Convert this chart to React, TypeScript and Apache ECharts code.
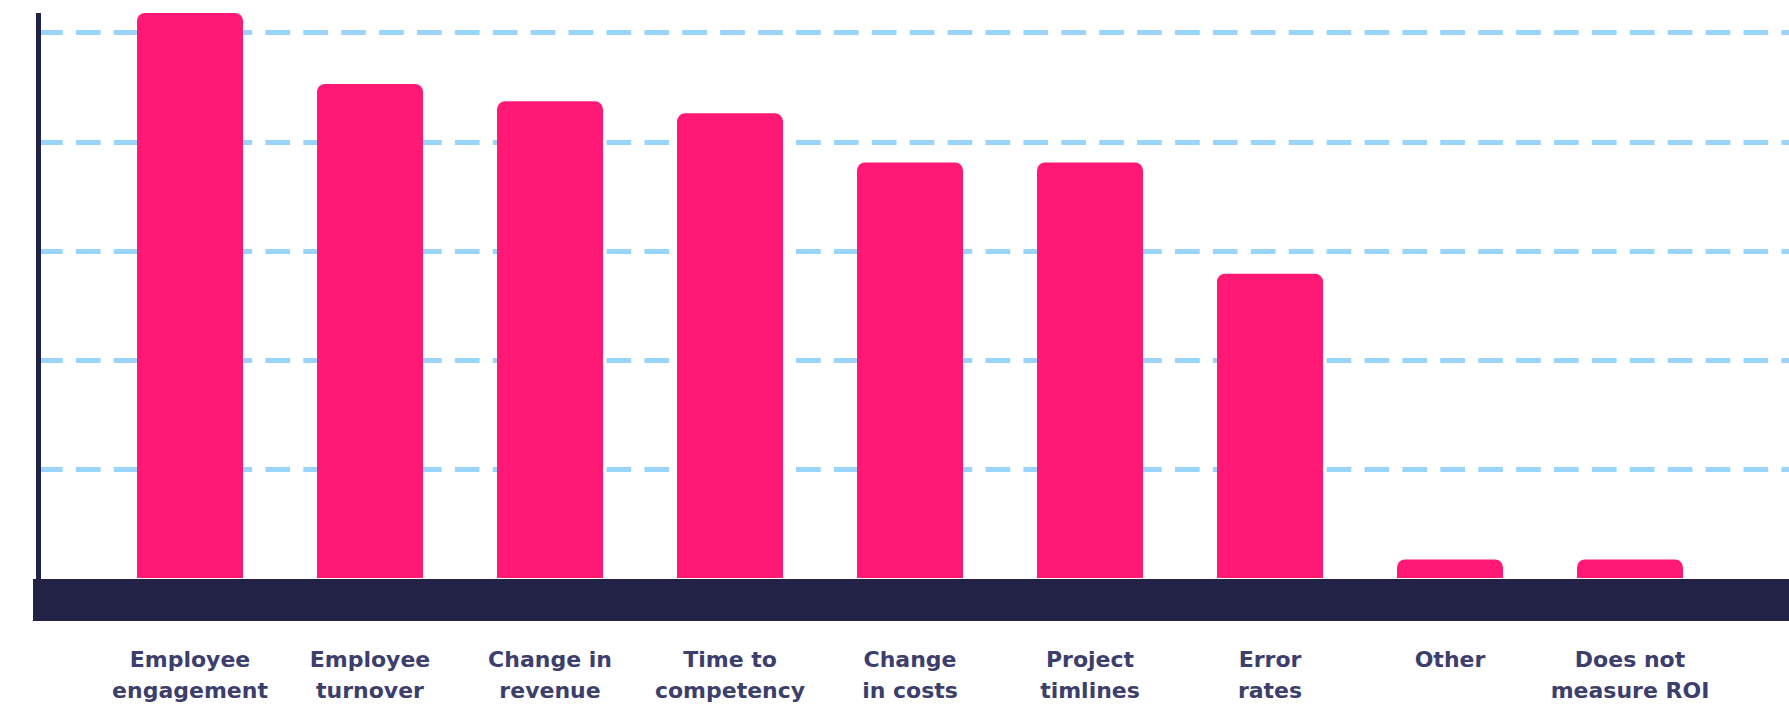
import React, { useEffect, useRef } from "react";
import * as echarts from "echarts";

const categories: string[] = [
  "Employee\nengagement",
  "Employee\nturnover",
  "Change in\nrevenue",
  "Time to\ncompetency",
  "Change\nin costs",
  "Project\ntimlines",
  "Error\nrates",
  "Other",
  "Does not\nmeasure ROI",
];
const values: number[] = [51.8, 45.3, 43.7, 42.6, 38.1, 38.1, 27.9, 1.7, 1.7];
const yMin = 0;
const yMax = 51.8;
const yInterval = 10;

const BAR = "#ff1874";
const NAVY = "#222246";
const GRIDLINE = "#99d5fb";
const LABEL = "#3c3e6c";

export default function App() {
  const ref = useRef<HTMLDivElement>(null);
  useEffect(() => {
    if (!ref.current) return;
    const chart = echarts.init(ref.current, undefined, { renderer: "svg" });
    chart.setOption({
      animation: false,
      backgroundColor: "#ffffff",
      grid: [
        { left: 33, right: 0, top: 13, bottom: 127 },
        { left: 38, right: 0, top: 13, bottom: 127 },
        { left: 100, right: 69, top: 13, bottom: 127 },
      ],
      xAxis: [
        {
          gridIndex: 0,
          type: "value",
          min: 0,
          max: 1,
          offset: 21,
          axisLine: {
            show: true,
            onZero: false,
            lineStyle: { color: NAVY, width: 42, cap: "butt" },
          },
          axisTick: { show: false },
          axisLabel: { show: false },
          splitLine: { show: false },
        },
        {
          gridIndex: 1,
          type: "value",
          show: false,
        },
        {
          gridIndex: 2,
          type: "category",
          data: categories,
          axisLine: { show: false },
          axisTick: { show: false },
          axisLabel: {
            show: true,
            interval: 0,
            margin: 66,
            color: LABEL,
            fontFamily: "DejaVu Sans",
            fontWeight: "bold",
            fontSize: 22,
            lineHeight: 31,
            align: "center",
          },
        },
      ],
      yAxis: [
        { gridIndex: 0, type: "value", min: yMin, max: yMax, show: false },
        {
          gridIndex: 1,
          type: "value",
          min: yMin,
          max: yMax,
          interval: yInterval,
          axisLine: {
            show: true,
            lineStyle: { color: NAVY, width: 5, cap: "butt" },
          },
          axisTick: { show: false },
          axisLabel: { show: false },
          splitLine: {
            show: true,
            showMinLine: false,
            showMaxLine: false,
            lineStyle: { color: GRIDLINE, width: 5, type: [24.7, 13.2], cap: "butt" },
          },
        },
        { gridIndex: 2, type: "value", min: yMin, max: yMax, show: false },
      ],
      series: [
        {
          type: "bar",
          xAxisIndex: 2,
          yAxisIndex: 2,
          data: values,
          barWidth: 106,
          itemStyle: { color: BAR, borderRadius: [8, 8, 0, 0] },
          z: 3,
        },
      ],
    });
    return () => chart.dispose();
  }, []);
  return (
    <div
      ref={ref}
      style={{ position: "fixed", left: 0, top: 0, width: 1789, height: 706 }}
    />
  );
}
